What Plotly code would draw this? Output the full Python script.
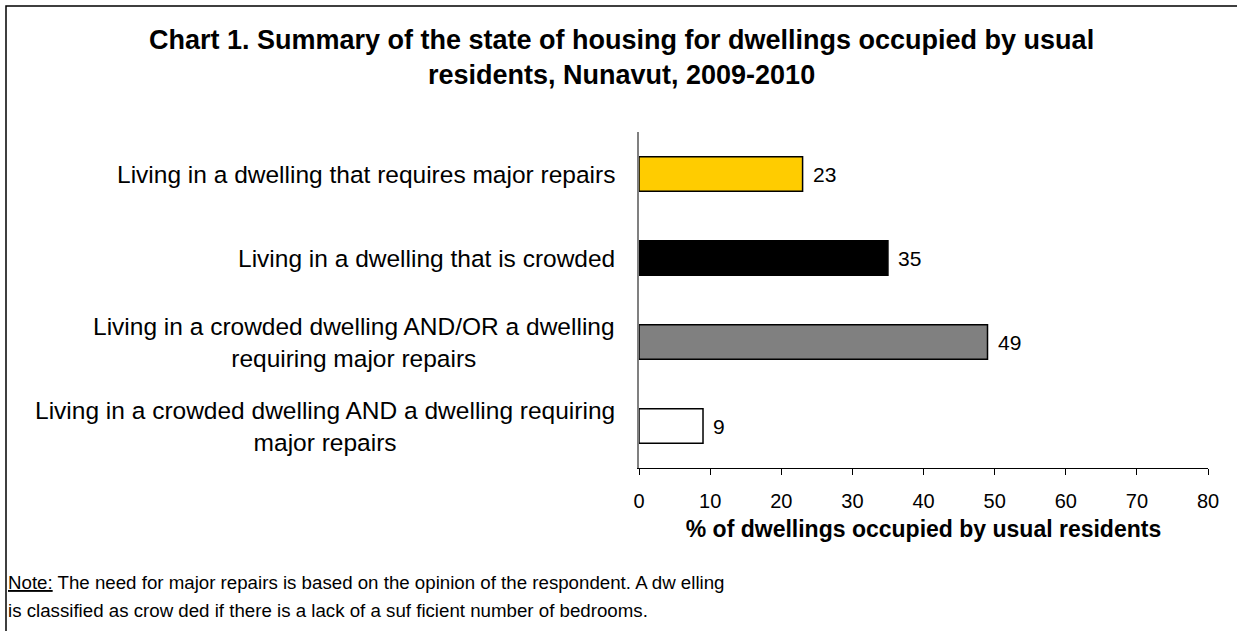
import plotly.graph_objects as go

# data
categories = [
    "Living in a dwelling that requires major repairs",
    "Living in a dwelling that is crowded",
    "Living in a crowded dwelling AND/OR a dwelling<br>requiring major repairs",
    "Living in a crowded dwelling AND a dwelling requiring<br>major repairs",
]
values = [23, 35, 49, 9]
bar_colors = ["#FFCC00", "#000000", "#808080", "#FFFFFF"]
x_ticks = [0, 10, 20, 30, 40, 50, 60, 70, 80]
title_text = ("Chart 1. Summary of the state of housing for dwellings occupied by usual"
              "<br>residents, Nunavut, 2009-2010")
note_lines = [
    "<span style='text-decoration:underline'>Note:</span> The need for major repairs is based on the opinion of the respondent. A dw elling",
    "is classified as crow ded if there is a lack of a suf ficient number of bedrooms.",
]

FONT = "Arial, Liberation Sans, sans-serif"
NARROW = "Arial Narrow, Liberation Sans Narrow, Liberation Sans, sans-serif"

W, H = 1237, 631
L, R, T, B = 639, 29, 132, 163
pw, ph = W - L - R, H - T - B

def px_x(px):
    return (px - L) / pw

def px_y(py):
    return (H - B - py) / ph

fig = go.Figure()
fig.add_trace(go.Bar(
    x=values, y=categories, orientation="h",
    marker=dict(color=bar_colors, line=dict(color="black", width=1.5)),
    width=0.41, hoverinfo="skip",
))

# value labels
for c, v in zip(categories, values):
    fig.add_annotation(x=v, y=c, xref="x", yref="y", text=str(v), showarrow=False,
                       xanchor="left", xshift=8, font=dict(family=FONT, size=21, color="black"))

# category labels: lines centred on each other, block right aligned
for c in categories:
    fig.add_annotation(x=0, y=c, xref="paper", yref="y", text=c, showarrow=False,
                       xanchor="right", xshift=-22, align="center",
                       font=dict(family=FONT, size=24.5, color="black"))

# title
fig.add_annotation(x=px_x(621), y=px_y(58), xref="paper", yref="paper", text="<b>%s</b>" % title_text,
                   showarrow=False, xanchor="center", yanchor="middle", align="center",
                   font=dict(family=FONT, size=27, color="black"))

# note at the bottom
for txt, cy in zip(note_lines, [582, 610]):
    fig.add_annotation(x=px_x(8), y=px_y(cy), xref="paper", yref="paper", text=txt,
                       showarrow=False, xanchor="left", yanchor="middle", xshift=-2,
                       font=dict(family=NARROW, size=18.7, color="black"))

# outer frame
fig.add_shape(type="rect", xref="paper", yref="paper",
              x0=px_x(6), x1=px_x(W + 10), y0=px_y(H + 10), y1=px_y(6),
              line=dict(color="black", width=1.5), layer="below")

fig.update_layout(
    width=W, height=H,
    margin=dict(l=L, r=R, t=T, b=B),
    paper_bgcolor="white", plot_bgcolor="white",
    showlegend=False,
    font=dict(family=FONT, color="black"),
)

fig.update_xaxes(
    range=[0, 80], tickvals=x_ticks, ticks="outside", ticklen=6, tickcolor="black",
    showline=True, linecolor="black", linewidth=1, showgrid=False, zeroline=False,
    tickfont=dict(family=FONT, size=20, color="black"), ticklabelstandoff=9,
    title=dict(text="<b>% of dwellings occupied by usual residents</b>",
               font=dict(family=FONT, size=23, color="black"), standoff=9),
)
fig.update_yaxes(
    categoryorder="array", categoryarray=categories, autorange="reversed",
    showticklabels=False, ticks="", showline=True, linecolor="#808080", linewidth=1.5,
    showgrid=False, zeroline=False,
)

fig.write_html("out.html", config={"displayModeBar": False},
               post_script="document.body.style.margin='0';")
